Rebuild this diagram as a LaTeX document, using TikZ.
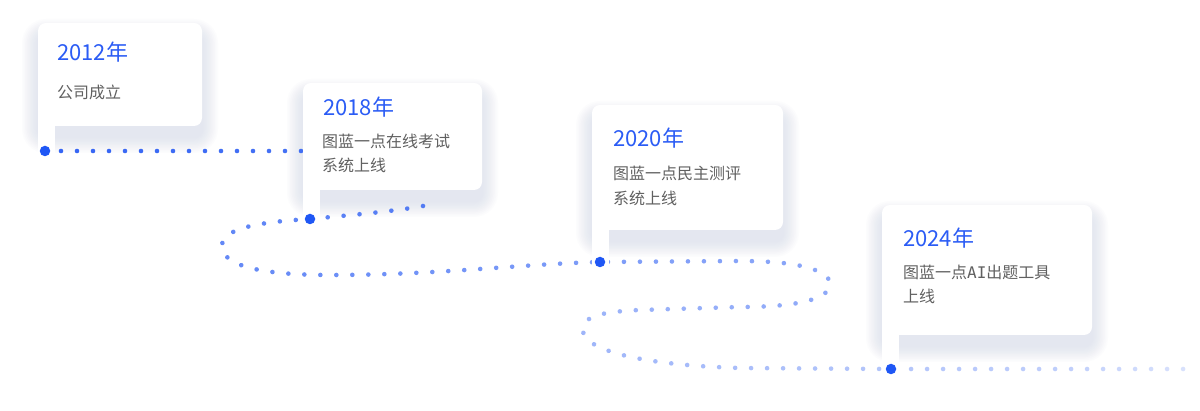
\documentclass[tikz,border=0pt]{standalone}
\usepackage{fontspec}
\setmainfont{Noto Sans CJK SC}
\newfontfamily\monof{DejaVu Sans Mono}
\usetikzlibrary{decorations.markings}
\definecolor{mainblue}{HTML}{1F57F5}
\definecolor{pathblue}{HTML}{3565F4}
\definecolor{titleblue}{HTML}{2B5CF5}
\definecolor{desccol}{HTML}{606060}
\definecolor{shadowc}{HTML}{B8C1DC}

\def\poff{0}
\def\ptot{2380}
\newcommand\pathdotmark{%
  \pgfmathsetmacro\ff{(\poff+(\pgfkeysvalueof{/pgf/decoration/mark info/sequence number}-1)*16)/\ptot}%
  \pgfmathsetmacro\op{\ff<0.88 ? 1-0.78*\ff : max(0.03,0.31-(\ff-0.88)*2.4)}%
  \fill[pathblue,opacity=\op] (0,0) circle (2.3pt);%
}
\newcommand\cardshadow[4]{%
  \foreach \e in {1,...,10}{%
    \pgfmathsetmacro\rr{8+1.6*\e}%
    \fill[shadowc,opacity=0.04,rounded corners=\rr pt] ({#1-1.6*\e},{#2+12-1.6*\e}) rectangle ({#3+1.6*\e},{#4+11+1.6*\e});
  }%
}
\newcommand\cardbody[5]{%
  \fill[white,rounded corners=8pt] (#1,#2) rectangle (#3,#4);
  \fill[white] (#1,{#4-10}) rectangle ({#1+17},#5);
}
\tikzset{
  dotpath/.style={decoration={markings,mark=between positions 0 and 1 step 16pt with {\pathdotmark}},decorate},
  maindot/.style={circle,fill=mainblue,inner sep=0pt,minimum size=10.5pt},
  titletext/.style={inner sep=0pt,anchor=base west,text=titleblue,font=\fontsize{22}{26}\selectfont},
  desctext/.style={inner sep=0pt,anchor=base west,text=desccol,font=\fontsize{16}{24}\selectfont}
}
\begin{document}
\begin{tikzpicture}[x=1pt,y=-1pt]
\fill[white] (0,0) rectangle (1200,411);
\useasboundingbox (0,0) rectangle (1200,411);

% shadows
\cardshadow{38}{23}{202}{126}
\cardshadow{303}{83}{482}{190}
\cardshadow{592}{105}{783}{230}
\cardshadow{882}{205}{1092}{335}

% dot positions
\coordinate (d1) at (45,151);
\coordinate (d2) at (310,219);
\coordinate (d3) at (600,262);
\coordinate (d4) at (891,369);
\coordinate (hid) at (440,151);
\coordinate (emerge) at (423,206);
\coordinate (pend) at (1186,369);

% dotted path: first run (its turn is hidden behind the 2018 card)
\path[dotpath] (d1) -- (hid);
% second run
\def\poff{500}
\path[dotpath] (emerge)
  .. controls (390,212) and (340,216) .. (d2)
  .. controls (260,222) and (222,228) .. (222,246)
  .. controls (222,266) and (262,275) .. (330,275)
  .. controls (440,275) and (520,264) .. (d3)
  -- (740,261) .. controls (805,261) and (830,272) .. (830,284)
  .. controls (830,297) and (805,307) .. (740,307)
  -- (640,310) .. controls (595,312) and (583,318) .. (583,330)
  .. controls (583,350) and (640,365) .. (740,368)
  -- (d4) -- (pend);

% cards
\cardbody{38}{23}{202}{126}{162}
\cardbody{303}{83}{482}{190}{232}
\cardbody{592}{105}{783}{230}{278}
\cardbody{882}{205}{1092}{335}{388}

% main dots
\node[maindot] (m1) at (d1) {};
\node[maindot] (m2) at (d2) {};
\node[maindot] (m3) at (d3) {};
\node[maindot] (m4) at (d4) {};

% texts
\node[titletext] (t1) at (57,61) {2012年};
\node[desctext] (s1) at (57,99) {公司成立};

\node[titletext] (t2) at (323,116) {2018年};
\node[desctext] (s2a) at (322,147.5) {图蓝一点在线考试};
\node[desctext] (s2b) at (322,172) {系统上线};

\node[titletext] (t3) at (613,147) {2020年};
\node[desctext] (s3a) at (613,180) {图蓝一点民主测评};
\node[desctext] (s3b) at (613,204.5) {系统上线};

\node[titletext] (t4) at (903,247) {2024年};
\node[desctext] (s4a) at (903,278.5) {图蓝一点{\monof AI}出题工具};
\node[desctext] (s4b) at (903,302.5) {上线};
\end{tikzpicture}
\end{document}
